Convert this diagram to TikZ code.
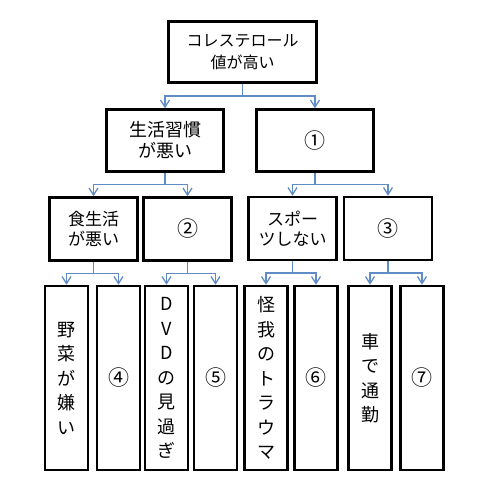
\documentclass[tikz,border=0pt]{standalone}
\usepackage{fontspec}
\newfontfamily\jp{Noto Sans CJK JP}
\usetikzlibrary{positioning,calc,arrows.meta}
\definecolor{linkblue}{RGB}{96,140,198}
\newcommand{\num}[1]{{\fontsize{21}{21}\selectfont #1}}
\begin{document}
\begin{tikzpicture}[x=1pt,y=1pt]
    \tikzstyle{every node}=[fill=white,rectangle,draw=black,line width=2.6,inner sep=0,align=center]
    \tikzstyle{box}=[font={\jp\fontsize{17}{20}\selectfont}]
    \tikzstyle{head}=[font={\jp\fontsize{16}{22}\selectfont},minimum width=148,minimum height=61]
    \tikzstyle{mid}=[font={\jp\fontsize{18}{21}\selectfont},minimum width=117,minimum height=62]
    \tikzstyle{low}=[box,minimum width=88,minimum height=63]
    \tikzstyle{tall}=[font={\jp\fontsize{18}{24.5}\selectfont},minimum width=43,minimum height=184]
    \tikzstyle{link}=[draw=linkblue,line width=1.3,-{Straight Barb[length=7,width=9]}]
    \useasboundingbox (0,0) rectangle (484,-488);
    {
        \node[head] (top) at (242.5,-52) {コレステロール\\値が高い};

        \node[mid] (sa) at (165,-140.5) {生活習慣\\が悪い};
        \node[mid] (sb) at (315,-140.5) {\num{①}};

        \node[low] (ta) at (93.5,-229) {食生活\\が悪い};
        \node[low] (tb) at (187.5,-229) {\num{②}};
        \node[low] (tc) at (292.5,-228.5) {スポー\\ツしない};
        \node[low] (td) at (388,-228.5) {\num{③}};

        \foreach \name/\x/\txt in {ua/66.5/{野\\菜\\が\\嫌\\い},ub/118.5/{\num{④}},
                                   uc/166.5/{D\\V\\D\\の\\見\\過\\ぎ},ud/215.5/{\num{⑤}},
                                   ue/266/{怪\\我\\の\\ト\\ラ\\ウ\\マ},uf/316/{\num{⑥}},
                                   ug/370/{車\\で\\通\\勤},uh/422/{\num{⑦}}} {
            \node[tall] (\name) at (\x,-378) {\txt};
        }

        \foreach \p/\c in {top/sa,top/sb,sa/ta,sa/tb,sb/tc,sb/td,
                           ta/ua,ta/ub,tb/uc,tb/ud,tc/ue,tc/uf,td/ug,td/uh} {
            \draw[link] (\p.south) |- ($(\p.south)!.5!(\c.north)$) -| (\c.north);
        }
    }
\end{tikzpicture}
\end{document}
